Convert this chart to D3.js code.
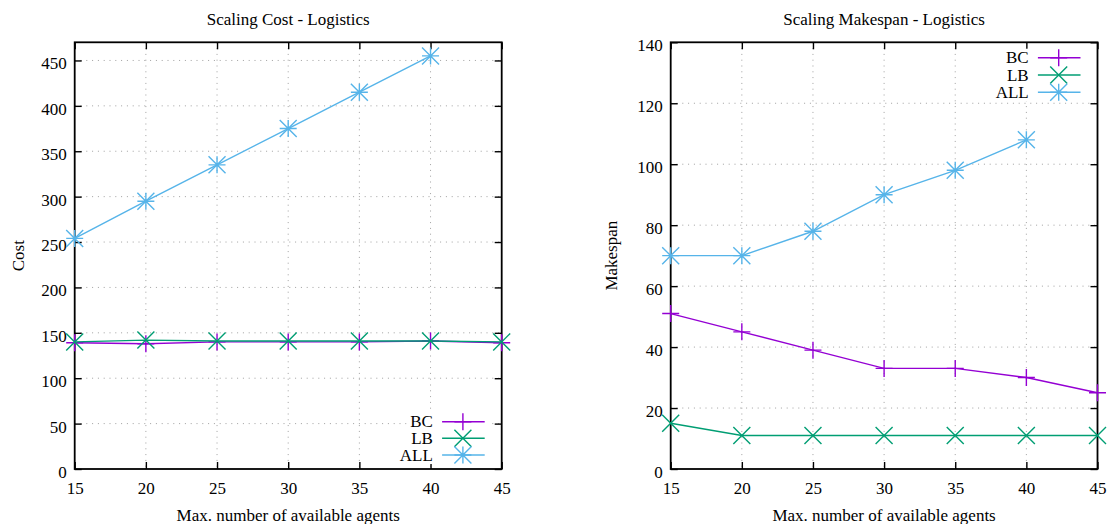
<!DOCTYPE html>
<html>
<head>
<meta charset="utf-8">
<script src="https://cdn.jsdelivr.net/npm/d3@7"></script>
<style>
  html, body { margin: 0; padding: 0; background: #fff; }
  svg { display: block; }
  text { font-family: "Liberation Serif", "Times New Roman", serif; fill: #000; }
</style>
</head>
<body>
<svg id="chart" width="1109" height="524"></svg>
<script>
// ---- data ----
const agents = [15, 20, 25, 30, 35, 40, 45];
const agentsAll = [15, 20, 25, 30, 35, 40];
const xTicks = [15, 20, 25, 30, 35, 40, 45];

const seriesNames = ["BC", "LB", "ALL"];
const seriesColors = ["#9400d3", "#009e73", "#56b4e9"];

const costBC = [139, 138, 140, 140, 140, 141, 139];
const costLB = [140, 142, 141, 141, 141, 141, 140];
const costALL = [254, 295, 335, 375, 415, 455];
const costTicks = [0, 50, 100, 150, 200, 250, 300, 350, 400, 450];

const makespanBC = [51, 45, 39, 33, 33, 30, 25];
const makespanLB = [15, 11, 11, 11, 11, 11, 11];
const makespanALL = [70, 70, 78, 90, 98, 108];
const makespanTicks = [0, 20, 40, 60, 80, 100, 120, 140];

const titles = ["Scaling Cost - Logistics", "Scaling Makespan - Logistics"];
const yLabels = ["Cost", "Makespan"];
const xLabel = "Max. number of available agents";

// ---- layout ----
const svg = d3.select("#chart");
const FS = 17;
const TOP = 42.3, BOTTOM = 469;

function markerPath(type, s) {
  const p = d3.path();
  if (type === "+" || type === "*") {
    p.moveTo(-s, 0); p.lineTo(s, 0);
    p.moveTo(0, -s); p.lineTo(0, s);
  }
  if (type === "x" || type === "*") {
    p.moveTo(-s, -s); p.lineTo(s, s);
    p.moveTo(-s, s); p.lineTo(s, -s);
  }
  return p.toString();
}
const markerTypes = ["+", "x", "*"];

function drawPanel(cfg) {
  const g = svg.append("g");
  const x = d3.scaleLinear().domain([15, 45]).range([cfg.x0, cfg.x1]);
  const y = d3.scaleLinear().domain(cfg.yDomain).range([BOTTOM, TOP]);

  // grid
  const grid = g.append("g").attr("stroke", "#a0a0a0").attr("stroke-width", 1)
    .attr("stroke-dasharray", "1,4.8");
  grid.selectAll(".gx").data(xTicks.slice(1, -1)).join("line")
    .attr("x1", d => x(d)).attr("x2", d => x(d))
    .attr("y1", TOP).attr("y2", BOTTOM);
  grid.selectAll(".gy").data(cfg.yTicks.filter(d => y(d) > TOP + 1 && y(d) < BOTTOM - 1)).join("line")
    .attr("x1", cfg.x0).attr("x2", cfg.x1)
    .attr("y1", d => y(d)).attr("y2", d => y(d));

  // axes (ticks inward, mirrored)
  const axB = d3.axisBottom(x).tickValues(xTicks).tickSize(-7).tickPadding(12).tickFormat(d3.format("d"));
  const axT = d3.axisTop(x).tickValues(xTicks).tickSize(-7).tickFormat("");
  const axL = d3.axisLeft(y).tickValues(cfg.yTicks).tickSize(-7).tickPadding(8).tickFormat(d3.format("d"));
  const axR = d3.axisRight(y).tickValues(cfg.yTicks).tickSize(-7).tickFormat("");

  function style(sel) {
    sel.select(".domain").remove();
    sel.selectAll(".tick line").attr("stroke", "#000").attr("stroke-width", 1.4);
    sel.selectAll(".tick text").style("font-size", FS + "px")
      .style("font-family", '"Liberation Serif", "Times New Roman", serif');
  }
  g.append("g").attr("transform", `translate(0,${BOTTOM})`).call(axB).call(style)
    .selectAll(".tick text").attr("dy", "0.71em").attr("y", 13);
  g.append("g").attr("transform", `translate(0,${TOP})`).call(axT).call(style);
  g.append("g").attr("transform", `translate(${cfg.x0},0)`).call(axL).call(style)
    .selectAll(".tick text").attr("dy", "0.32em").attr("y", 3);
  g.append("g").attr("transform", `translate(${cfg.x1},0)`).call(axR).call(style);

  // frame
  g.append("rect").attr("x", cfg.x0).attr("y", TOP)
    .attr("width", cfg.x1 - cfg.x0).attr("height", BOTTOM - TOP)
    .attr("fill", "none").attr("stroke", "#000").attr("stroke-width", 1.8);

  // series
  const line = d3.line().x(d => x(d[0])).y(d => y(d[1]));
  cfg.series.forEach((s, i) => {
    const pts = s.xs.map((xv, j) => [xv, s.ys[j]]);
    const sg = g.append("g");
    sg.append("path").attr("d", line(pts)).attr("fill", "none")
      .attr("stroke", seriesColors[i]).attr("stroke-width", 1.4);
    sg.selectAll("path.m").data(pts).join("path").attr("class", "m")
      .attr("transform", d => `translate(${x(d[0])},${y(d[1])})`)
      .attr("d", markerPath(markerTypes[i], 8.5))
      .attr("fill", "none").attr("stroke", seriesColors[i]).attr("stroke-width", 1.4);
  });

  // legend
  const kg = g.append("g");
  const rows = cfg.keyRows;
  kg.append("rect")
    .attr("x", cfg.x1 - 95).attr("y", rows[0] - 9)
    .attr("width", 85).attr("height", rows[2] - rows[0] + 18)
    .attr("fill", "#fff");
  seriesNames.forEach((name, i) => {
    const yy = rows[i];
    kg.append("text").attr("x", cfg.x1 - 68.8).attr("y", yy).attr("dy", "0.34em")
      .attr("text-anchor", "end").style("font-size", FS + "px").text(name);
    kg.append("line").attr("x1", cfg.x1 - 59.6).attr("x2", cfg.x1 - 17)
      .attr("y1", yy).attr("y2", yy)
      .attr("stroke", seriesColors[i]).attr("stroke-width", 1.4);
    kg.append("path").attr("transform", `translate(${cfg.x1 - 38.8},${yy})`)
      .attr("d", markerPath(markerTypes[i], 8.5))
      .attr("fill", "none").attr("stroke", seriesColors[i]).attr("stroke-width", 1.4);
  });

  // titles and labels
  const cx = (cfg.x0 + cfg.x1) / 2;
  g.append("text").attr("x", cx).attr("y", 25).attr("text-anchor", "middle")
    .style("font-size", FS + "px").text(cfg.title);
  g.append("text").attr("x", cx).attr("y", 521).attr("text-anchor", "middle")
    .style("font-size", FS + "px").text(xLabel);
  g.append("text")
    .attr("transform", `translate(${cfg.yLabelX},${(TOP + BOTTOM) / 2}) rotate(-90)`)
    .attr("text-anchor", "middle").style("font-size", FS + "px").text(cfg.yLabel);
}

drawPanel({
  x0: 74.7, x1: 501.7, yDomain: [0, 470], yTicks: costTicks,
  title: titles[0], yLabel: yLabels[0], yLabelX: 24,
  keyRows: [BOTTOM - 47.3, BOTTOM - 30.7, BOTTOM - 14],
  series: [
    { xs: agents, ys: costBC },
    { xs: agents, ys: costLB },
    { xs: agentsAll, ys: costALL }
  ]
});

drawPanel({
  x0: 670.7, x1: 1097.5, yDomain: [0, 140], yTicks: makespanTicks,
  title: titles[1], yLabel: yLabels[1], yLabelX: 617,
  keyRows: [TOP + 15.4, TOP + 32.7, TOP + 50],
  series: [
    { xs: agents, ys: makespanBC },
    { xs: agents, ys: makespanLB },
    { xs: agentsAll, ys: makespanALL }
  ]
});
</script>
</body>
</html>
